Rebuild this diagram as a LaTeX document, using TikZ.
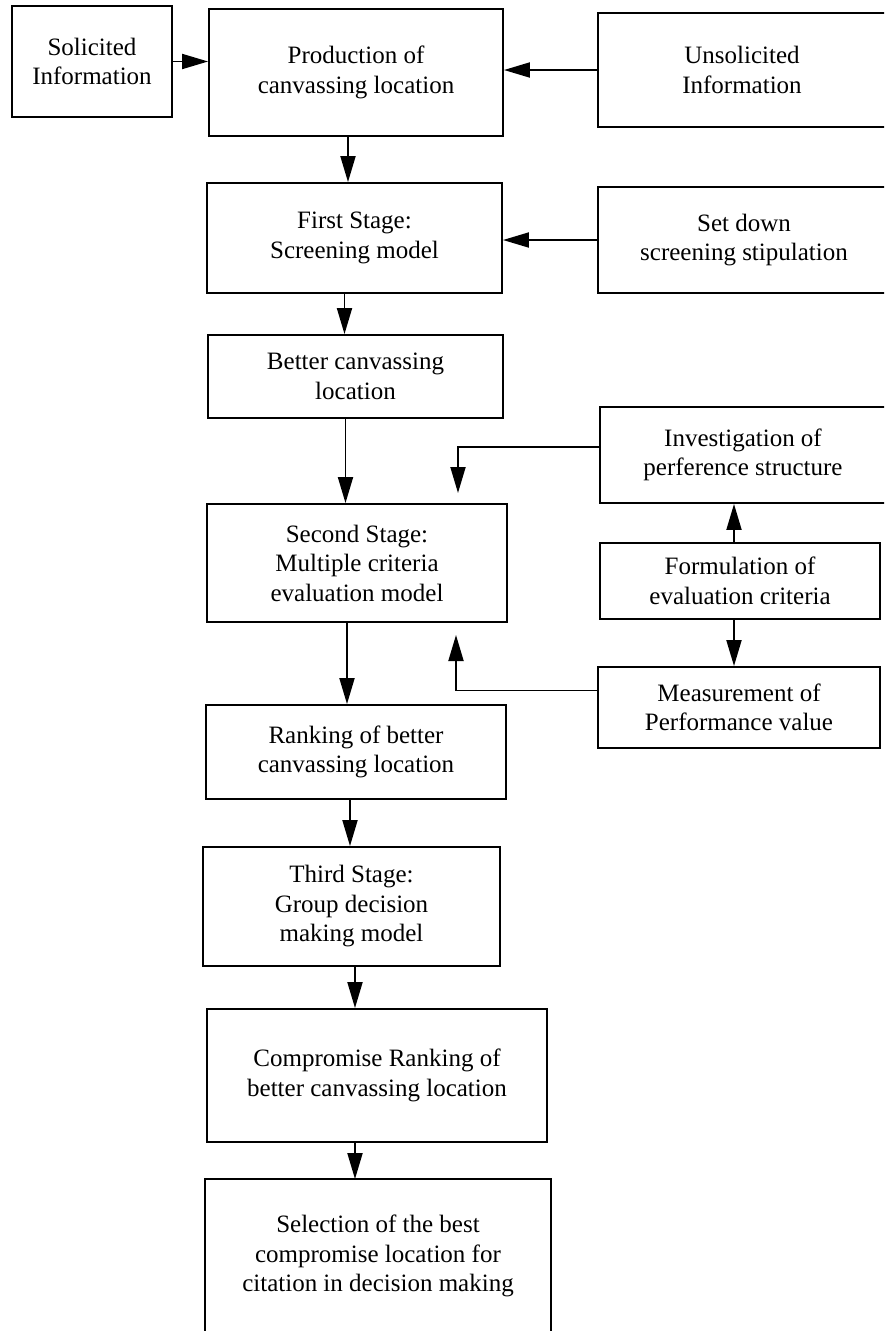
\documentclass[tikz,border=0pt]{standalone}
\usepackage{fontspec}
\setmainfont{Liberation Serif}
\usetikzlibrary{arrows.meta}
\begin{document}
\begin{tikzpicture}[x=1pt,y=-1pt,
  box/.style={draw, line width=1.9pt, align=center, inner sep=0pt, font=\fontsize{25}{29.5}\selectfont},
  nobox/.style={box, draw=none},
  arr/.style={line width=1.9pt, -{Triangle[length=26pt,width=15pt]}}]
\useasboundingbox (0,0) rectangle (884,1331);
\clip (0,0) rectangle (884,1331);
\node[box, minimum width=160pt, minimum height=111pt] (sol) at (92,61.5) {Solicited\\Information};
\node[box, minimum width=294pt, minimum height=127pt] (prod) at (356,72.5) {Production of\\canvassing location};
\node[box, minimum width=288pt, minimum height=114pt] (unsol) at (742,70) {Unsolicited\\Information};
\node[box, minimum width=295pt, minimum height=110pt] (first) at (354.5,238) {First Stage:\\Screening model};
\node[box, minimum width=292pt, minimum height=106pt] (setdown) at (744,240) {Set down\\screening stipulation};
\node[box, minimum width=295pt, minimum height=83pt] (better) at (355.5,376.5) {Better canvassing\\location};
\node[box, minimum width=286pt, minimum height=96pt] (invest) at (743,455) {Investigation of\\perference structure};
\node[box, minimum width=300pt, minimum height=118pt] (second) at (357,563) {Second Stage:\\Multiple criteria\\evaluation model};
\node[box, minimum width=280pt, minimum height=76pt] (formul) at (740,581) {Formulation of\\evaluation criteria};
\node[box, minimum width=282pt, minimum height=81pt] (meas) at (739,707.5) {Measurement of\\Performance value};
\node[box, minimum width=300pt, minimum height=94pt] (rank) at (356,752) {Ranking of better\\canvassing location};
\node[box, minimum width=297pt, minimum height=119pt] (third) at (351.5,906.5) {Third Stage:\\Group decision\\making model};
\node[box, minimum width=340pt, minimum height=133pt] (comp) at (377,1075.5) {Compromise Ranking of\\better canvassing location};
\node[nobox, minimum width=344pt, minimum height=152pt] (sel) at (378,1256) {Selection of the best\\compromise location for\\citation in decision making};
\draw[line width=1.9pt] (sel.south west) -- (sel.north west) -- (sel.north east) -- (sel.south east);
\coordinate (c1) at (458,493);
\coordinate (c2) at (456,635);
\draw[arr] (sol.east) -- (sol.east -| prod.west);
\draw[arr] (unsol.west) -- (unsol.west -| prod.east);
\draw[arr] ([xshift=-8pt]prod.south) -- ([xshift=-8pt]prod.south |- first.north);
\draw[arr] (setdown.west) -- (setdown.west -| first.east);
\draw[arr] ([xshift=-10pt]first.south) -- ([xshift=-10pt]first.south |- better.north);
\draw[arr] ([xshift=-10pt]better.south) -- ([xshift=-10pt]better.south |- second.north);
\draw[arr] ([yshift=8pt]invest.west) -| (c1);
\draw[arr] ([xshift=-6pt]formul.north) -- ([xshift=-6pt]formul.north |- invest.south);
\draw[arr] ([xshift=-6pt]formul.south) -- ([xshift=-6pt]formul.south |- meas.north);
\draw[arr] ([yshift=17pt]meas.west) -| (c2);
\draw[arr] ([xshift=-10pt]second.south) -- ([xshift=-10pt]second.south |- rank.north);
\draw[arr] ([xshift=-6pt]rank.south) -- ([xshift=-6pt]rank.south |- third.north);
\draw[arr] ([xshift=3.5pt]third.south) -- ([xshift=3.5pt]third.south |- comp.north);
\draw[arr] ([xshift=-22pt]comp.south) -- ([xshift=-22pt]comp.south |- sel.north);
\end{tikzpicture}
\end{document}
